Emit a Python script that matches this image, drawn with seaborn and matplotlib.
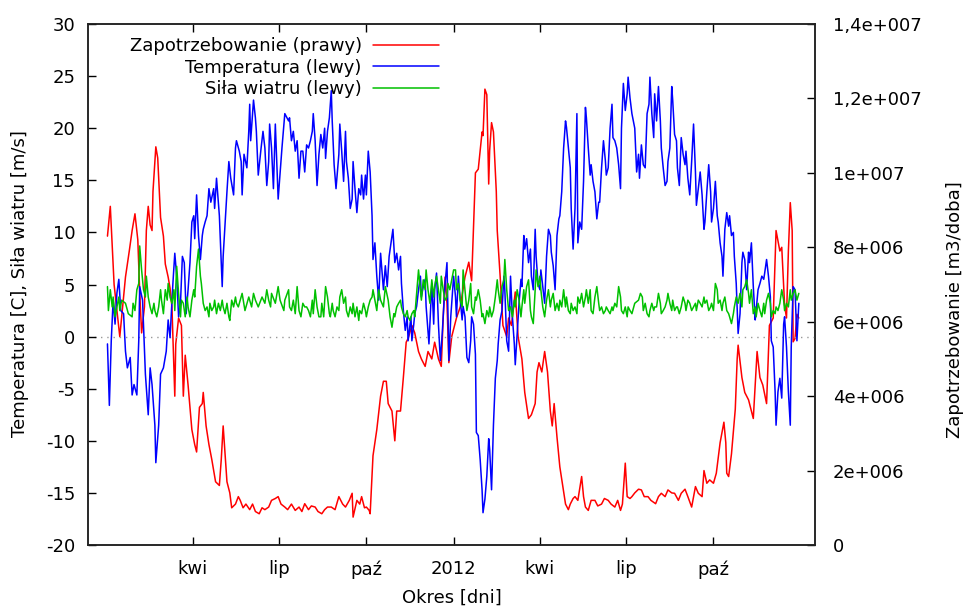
import pandas as pd
import numpy as np
import matplotlib
matplotlib.use("Agg")
import matplotlib.pyplot as plt
import seaborn as sns

# dni liczone od 2011-01-01
start = pd.Timestamp("2011-01-01")

zap_dni = [0, 3, 7, 13, 19, 23, 26, 29, 32, 34, 36, 39, 41, 43, 45, 47, 48, 51, 53, 56,
           59, 61, 64, 66, 68, 71, 72, 75, 78, 80, 82, 85, 89, 92, 94, 97, 100, 101, 104, 107,
           110, 114, 118, 120, 122, 126, 129, 131, 135, 138, 140, 143, 146, 150, 153, 156, 160, 163, 166, 170,
           173, 177, 180, 183, 187, 190, 194, 198, 202, 205, 208, 212, 215, 219, 222, 226, 229, 232, 236, 240,
           244, 248, 251, 255, 258, 259, 263, 266, 268, 271, 273, 276, 277, 280, 284, 288, 291, 294, 296, 300,
           303, 305, 309, 312, 315, 317, 321, 324, 328, 331, 335, 338, 342, 345, 349, 352, 354, 356, 358, 360,
           363, 368, 372, 377, 381, 384, 388, 391, 395, 396, 398, 400, 402, 403, 405, 407, 410, 411, 414, 417,
           421, 423, 426, 430, 433, 437, 440, 444, 447, 451, 453, 455, 458, 461, 464, 467, 469, 471, 474, 477,
           483, 486, 488, 491, 493, 496, 500, 502, 504, 507, 510, 514, 517, 521, 524, 528, 531, 535, 538, 541,
           543, 546, 548, 551, 553, 556, 560, 563, 566, 570, 573, 578, 581, 584, 588, 591, 595, 598, 602, 605,
           609, 612, 616, 620, 623, 627, 629, 632, 635, 639, 642, 646, 650, 652, 653, 655, 658, 662, 664, 665,
           669, 672, 676, 679, 681, 685, 688, 691, 695, 698, 702, 705, 709, 711, 713, 714, 716, 718, 720, 722,
           723, 725, 727, 729]
zap_mln = [8.3, 9.1, 7.0, 5.6, 7.2, 7.9, 8.45, 8.9, 8.2, 6.8, 5.7, 6.4, 8.45, 9.1, 8.6, 8.45, 9.5, 10.7, 10.4, 8.8,
           8.3, 7.55, 7.2, 6.9, 6.4, 4.0, 5.4, 6.1, 5.9, 4.0, 5.1, 4.3, 3.1, 2.7, 2.5, 3.7, 3.8, 4.1, 3.2, 2.7,
           2.3, 1.7, 1.6, 2.3, 3.2, 1.7, 1.4, 1.0, 1.1, 1.3, 1.2, 1.0, 1.1, 0.95, 1.1, 0.9, 0.84, 1.0, 0.95, 1.02,
           1.2, 1.25, 1.3, 1.1, 1.02, 0.95, 1.1, 0.93, 1.02, 0.9, 1.11, 0.95, 1.05, 1.02, 0.9, 0.84, 0.95, 1.02, 1.02, 0.95,
           1.3, 1.1, 1.02, 1.2, 1.39, 0.75, 1.2, 1.1, 1.3, 1.0, 1.02, 0.93, 0.84, 2.4, 3.1, 4.0, 4.4, 4.4, 3.8, 3.6,
           2.8, 3.6, 3.6, 4.5, 5.45, 5.55, 5.9, 5.7, 5.2, 5.0, 4.8, 5.2, 5.0, 5.45, 5.0, 4.8, 6.1, 7.2, 6.5, 4.9,
           5.6, 6.1, 6.4, 7.2, 7.6, 7.1, 10.0, 10.1, 11.1, 11.0, 12.25, 12.1, 9.7, 10.6, 11.35, 11.1, 9.5, 8.45, 7.25, 5.9,
           5.6, 6.1, 5.9, 6.8, 5.6, 5.0, 4.1, 3.4, 3.5, 3.8, 4.65, 4.9, 4.65, 5.2, 4.65, 3.6, 3.2, 3.8, 2.9, 2.1,
           1.1, 0.95, 1.1, 1.25, 1.3, 1.2, 1.84, 1.3, 1.02, 0.93, 1.2, 1.2, 1.05, 1.1, 1.25, 1.2, 1.1, 1.02, 1.2, 0.93,
           1.1, 2.2, 1.3, 1.25, 1.3, 1.4, 1.5, 1.48, 1.3, 1.3, 1.2, 1.11, 1.3, 1.39, 1.3, 1.48, 1.4, 1.39, 1.2, 1.39,
           1.5, 1.3, 1.02, 1.57, 1.39, 1.3, 2.0, 1.66, 1.75, 1.66, 1.93, 2.75, 3.3, 2.75, 1.93, 1.84, 2.45, 3.65, 5.0, 5.37,
           4.5, 4.1, 3.9, 3.6, 3.4, 5.2, 4.5, 4.3, 3.8, 5.9, 6.1, 8.45, 7.9, 8.0, 7.0, 6.45, 6.1, 7.9, 9.2, 8.45,
           5.46, 5.55, 6.2, 6.1]

temp_dni = [0, 2, 4, 6, 8, 10, 12, 14, 17, 19, 21, 24, 26, 28, 31, 33, 34, 37, 40, 43,
            45, 47, 50, 51, 54, 56, 59, 62, 64, 66, 69, 71, 73, 75, 77, 79, 81, 83, 85, 87,
            89, 91, 92, 94, 96, 98, 100, 101, 103, 105, 107, 109, 112, 113, 115, 118, 121, 122, 126, 128,
            130, 133, 135, 136, 139, 141, 142, 144, 147, 149, 150, 151, 154, 156, 157, 159, 162, 164, 166, 168,
            170, 171, 173, 175, 177, 180, 184, 187, 191, 192, 194, 196, 198, 200, 202, 204, 206, 208, 210, 212,
            214, 216, 217, 219, 221, 223, 225, 227, 229, 230, 232, 234, 236, 237, 239, 241, 244, 245, 247, 249,
            251, 252, 254, 256, 258, 259, 261, 263, 265, 267, 268, 270, 272, 273, 275, 277, 279, 280, 282, 284,
            286, 288, 291, 293, 295, 297, 299, 301, 303, 305, 307, 309, 310, 312, 314, 316, 317, 320, 321, 323,
            324, 326, 328, 330, 331, 333, 335, 336, 339, 342, 344, 345, 347, 349, 351, 353, 356, 358, 360, 362,
            365, 367, 368, 370, 372, 374, 375, 377, 379, 381, 383, 384, 386, 388, 389, 391, 393, 395, 396, 398,
            400, 402, 403, 405, 407, 409, 411, 412, 414, 416, 418, 419, 421, 423, 425, 427, 429, 430, 432, 434,
            436, 437, 439, 440, 442, 444, 446, 447, 449, 451, 452, 454, 456, 457, 459, 461, 463, 465, 467, 468,
            470, 472, 474, 476, 477, 479, 481, 483, 484, 486, 488, 489, 491, 493, 495, 496, 498, 500, 502, 504,
            505, 507, 509, 510, 512, 514, 516, 518, 519, 521, 523, 525, 526, 528, 530, 532, 533, 535, 537, 539,
            541, 542, 544, 546, 548, 549, 551, 553, 556, 558, 560, 561, 563, 565, 567, 569, 571, 572, 574, 576,
            577, 579, 581, 583, 584, 586, 588, 590, 591, 593, 595, 596, 598, 600, 601, 603, 605, 607, 609, 610,
            612, 614, 616, 618, 620, 621, 623, 625, 627, 629, 630, 632, 634, 636, 637, 639, 641, 643, 644, 646,
            648, 649, 651, 653, 655, 656, 658, 660, 661, 663, 665, 667, 669, 670, 672, 674, 676, 677, 679, 681,
            683, 684, 686, 688, 690, 692, 693, 695, 697, 699, 700, 702, 704, 705, 707, 709, 711, 713, 714, 716,
            718, 720, 721, 723, 725, 727, 729]
temp_c = [-0.7, -6.6, -0.4, 3.5, 1.2, 4.2, 5.5, 2.5, 2.2, -1.4, -3.0, -2.0, -5.6, -4.6, -5.6, -0.4, 4.8, 3.5, -3.6, -7.5,
          -3.0, -4.6, -8.5, -12.1, -8.5, -3.6, -3.0, -1.4, 1.6, -0.1, 5.1, 8.0, 5.8, 1.9, 3.2, 7.7, 7.1, 2.2, 4.5, 7.1,
          11.0, 11.6, 9.4, 13.6, 9.7, 7.4, 9.7, 10.3, 11.0, 11.6, 14.2, 12.9, 14.2, 12.3, 15.2, 11.6, 4.8, 7.7, 13.9, 16.8,
          15.2, 13.6, 18.1, 18.8, 17.8, 16.8, 13.6, 17.5, 16.2, 19.7, 22.3, 18.8, 22.7, 21.0, 19.7, 15.5, 18.1, 19.7, 18.1, 14.5,
          16.8, 20.4, 18.1, 14.2, 20.4, 13.2, 18.1, 21.4, 20.7, 21.0, 18.8, 19.7, 17.8, 18.8, 15.2, 17.8, 17.8, 15.8, 18.4, 18.1,
          18.8, 19.7, 21.4, 18.8, 14.5, 17.5, 19.4, 18.1, 20.0, 17.1, 19.7, 21.0, 23.6, 20.7, 16.5, 14.2, 17.5, 20.4, 17.8, 14.9,
          19.7, 16.8, 15.2, 12.3, 13.2, 16.8, 14.2, 11.9, 14.2, 13.6, 15.5, 13.2, 15.5, 13.6, 17.8, 15.8, 11.6, 7.4, 9.0, 5.8,
          3.5, 8.0, 4.5, 6.8, 4.8, 7.7, 9.0, 10.3, 7.1, 8.0, 6.4, 7.7, 5.1, 2.5, 0.6, 1.9, -0.4, 1.9, -0.4, 1.2,
          2.2, 2.9, 4.5, 5.8, 3.8, 4.8, 5.5, 2.9, -0.7, 5.1, 1.2, 4.5, 6.1, 1.2, -2.3, 0.3, 5.1, 7.1, -2.3, 1.9,
          5.8, 3.8, 1.9, 5.8, 3.5, 1.6, 2.9, 1.9, -2.0, -2.5, -0.4, 1.9, 1.2, -1.7, -9.2, -9.5, -11.8, -14.7, -16.9, -15.6,
          -13.4, -9.8, -10.8, -14.7, -8.5, -4.0, -2.3, -0.7, 1.6, 2.5, 5.8, 4.5, -0.4, -1.4, 5.8, 1.9, -0.7, -2.7, 0.3, 3.2,
          5.5, 4.8, 9.7, 8.4, 9.4, 7.1, 8.4, 5.8, 4.5, 10.3, 7.7, 5.1, 4.5, 6.4, 4.8, 3.2, 7.7, 10.3, 9.7, 8.1,
          6.8, 4.5, 9.7, 11.3, 11.6, 13.9, 18.1, 20.7, 20.1, 18.1, 16.2, 12.3, 8.4, 12.3, 21.4, 9.0, 11.0, 10.3, 14.9, 22.0,
          21.0, 18.1, 15.5, 16.5, 14.9, 13.9, 11.3, 12.9, 12.9, 16.2, 18.8, 16.9, 15.5, 16.2, 20.0, 22.3, 19.1, 18.8, 18.1, 16.5,
          14.2, 20.0, 24.3, 21.7, 23.3, 24.9, 22.9, 21.4, 20.0, 15.8, 17.5, 15.2, 18.4, 16.5, 16.2, 21.4, 22.3, 24.9, 21.4, 19.1,
          23.3, 20.7, 24.0, 20.7, 18.1, 16.2, 14.5, 14.9, 16.8, 18.1, 24.0, 22.7, 19.4, 18.8, 16.2, 14.5, 19.1, 17.5, 16.5, 17.8,
          15.2, 13.6, 16.8, 20.4, 15.8, 12.6, 14.2, 15.8, 13.6, 10.3, 11.0, 13.9, 16.5, 13.9, 11.0, 12.3, 14.9, 11.6, 11.0, 9.0,
          7.7, 5.8, 10.3, 11.9, 10.6, 11.6, 9.7, 10.0, 7.7, 5.1, 0.3, 2.2, 7.1, 8.1, 7.4, 4.5, 8.1, 7.1, 9.0, 4.8,
          1.6, 2.5, 4.5, 5.1, 5.8, 5.5, 6.1, 7.4, 5.8, 3.8, -0.4, -1.0, -5.3, -8.5, -5.3, -4.0, -5.9, 1.2, 1.9, -1.0,
          -5.3, -8.5, -1.0, 4.8, 4.5, -0.4, 3.2]

wiatr_dni = [0, 1, 3, 5, 6, 8, 10, 12, 13, 15, 19, 22, 26, 27, 29, 31, 33, 34, 36, 38,
             40, 41, 43, 45, 47, 49, 50, 52, 54, 56, 57, 59, 61, 63, 64, 66, 68, 70, 71, 73,
             75, 77, 78, 80, 82, 84, 85, 87, 89, 91, 92, 94, 96, 98, 99, 101, 103, 105, 107, 108,
             110, 112, 113, 115, 117, 119, 121, 122, 124, 126, 128, 129, 131, 133, 135, 136, 138, 142, 145, 149,
             152, 154, 156, 159, 163, 166, 168, 170, 172, 173, 177, 180, 182, 186, 187, 191, 192, 194, 196, 198,
             200, 202, 204, 206, 208, 210, 212, 214, 216, 217, 219, 221, 223, 225, 226, 228, 230, 232, 234, 235,
             237, 238, 240, 242, 244, 245, 247, 249, 251, 252, 254, 256, 258, 259, 261, 263, 265, 266, 268, 270,
             272, 273, 275, 277, 279, 280, 282, 284, 286, 288, 291, 293, 296, 298, 300, 302, 303, 305, 307, 309,
             310, 312, 314, 316, 317, 319, 321, 323, 324, 328, 330, 331, 333, 335, 336, 338, 340, 342, 344, 345,
             347, 349, 351, 352, 354, 356, 358, 359, 361, 363, 365, 367, 368, 370, 372, 374, 375, 377, 379, 381,
             383, 384, 386, 388, 389, 391, 393, 395, 396, 398, 400, 402, 403, 405, 407, 409, 411, 412, 414, 416,
             418, 419, 421, 423, 425, 427, 429, 430, 432, 434, 436, 437, 439, 440, 442, 444, 446, 447, 449, 451,
             452, 454, 456, 457, 459, 461, 463, 465, 467, 468, 470, 472, 474, 476, 477, 479, 481, 483, 484, 486,
             488, 489, 491, 493, 495, 496, 498, 500, 502, 504, 505, 507, 509, 510, 512, 514, 516, 518, 519, 521,
             523, 525, 526, 528, 530, 532, 533, 535, 537, 539, 541, 542, 544, 546, 548, 549, 551, 553, 556, 560,
             562, 564, 565, 567, 569, 571, 572, 574, 576, 577, 579, 581, 583, 584, 586, 588, 590, 591, 593, 595,
             596, 598, 600, 601, 603, 605, 607, 609, 610, 612, 614, 616, 618, 620, 621, 623, 625, 627, 629, 630,
             632, 634, 636, 637, 639, 641, 643, 644, 646, 648, 649, 651, 653, 655, 656, 658, 660, 661, 663, 665,
             667, 669, 670, 672, 674, 676, 677, 679, 681, 683, 684, 686, 688, 690, 692, 693, 695, 697, 699, 700,
             702, 704, 705, 707, 709, 711, 713, 714, 716, 718, 720, 721, 723, 725, 727, 729]
wiatr_ms = [4.8, 2.5, 4.5, 2.85, 3.8, 1.9, 2.85, 3.8, 2.5, 3.5, 3.2, 2.2, 1.9, 3.2, 2.5, 4.5, 5.1, 8.7, 6.4, 4.5,
            3.8, 5.8, 3.8, 2.85, 2.2, 3.2, 2.5, 1.9, 2.85, 4.5, 3.5, 2.2, 4.5, 3.5, 5.1, 3.8, 3.2, 4.5, 2.5, 6.75,
            4.15, 1.9, 3.5, 3.2, 1.9, 3.8, 2.85, 1.9, 3.5, 4.5, 3.8, 6.75, 8.4, 5.8, 5.1, 3.2, 2.5, 2.85, 1.9, 3.2,
            2.5, 2.85, 3.5, 2.2, 3.2, 2.5, 3.5, 2.85, 2.2, 3.2, 1.9, 1.55, 3.5, 2.85, 3.8, 3.2, 2.85, 4.15, 2.5, 3.8,
            2.85, 4.15, 3.5, 2.85, 3.8, 3.2, 4.5, 3.5, 2.85, 4.15, 3.2, 4.8, 3.5, 2.5, 3.5, 4.5, 2.85, 2.5, 3.5, 2.2,
            4.8, 2.5, 1.9, 3.2, 2.85, 2.85, 2.5, 1.9, 3.5, 2.2, 4.5, 2.85, 1.9, 1.9, 3.2, 1.9, 4.8, 3.8, 2.2, 1.9,
            3.2, 2.5, 1.9, 2.85, 2.5, 3.8, 4.5, 3.2, 3.8, 2.5, 1.9, 2.85, 2.2, 3.2, 1.9, 2.85, 1.55, 2.5, 2.2, 3.2,
            2.5, 1.9, 2.85, 3.5, 3.8, 4.5, 3.5, 2.5, 4.5, 3.5, 2.85, 4.8, 3.5, 1.9, 0.9, 2.2, 1.9, 2.85, 3.2, 3.5,
            2.85, 2.2, 1.9, 2.5, 1.9, 1.55, 2.2, 2.5, 1.9, 6.4, 4.5, 3.5, 5.45, 4.5, 6.4, 4.5, 3.2, 5.45, 3.8, 4.8,
            5.8, 4.5, 3.2, 5.8, 4.5, 3.5, 3.8, 5.1, 4.5, 5.45, 6.4, 6.4, 4.5, 5.1, 3.5, 2.85, 6.4, 4.5, 2.5, 3.5,
            5.1, 2.85, 2.2, 3.8, 3.5, 4.5, 3.5, 1.9, 2.2, 1.25, 2.5, 1.9, 2.85, 1.9, 2.5, 3.8, 5.45, 4.5, 3.2, 4.8,
            5.45, 7.4, 4.5, 2.5, 2.85, 1.9, 3.5, 2.85, 4.5, 3.5, 1.9, 2.85, 4.5, 3.2, 4.8, 5.45, 2.5, 1.9, 1.25, 4.5,
            6.4, 4.8, 5.8, 4.5, 2.85, 1.9, 3.5, 4.5, 2.85, 3.5, 4.15, 2.5, 3.2, 2.5, 3.5, 2.85, 4.5, 2.85, 3.8, 2.5,
            2.2, 3.2, 2.5, 2.85, 2.2, 3.8, 3.2, 4.15, 2.85, 3.8, 4.5, 3.2, 4.5, 2.5, 2.2, 3.8, 4.8, 3.2, 2.5, 2.85,
            2.2, 2.5, 2.85, 2.5, 2.2, 2.85, 2.5, 3.2, 2.85, 4.8, 3.8, 2.5, 2.2, 2.85, 1.9, 2.85, 2.5, 2.2, 3.2, 3.5,
            4.15, 3.8, 2.5, 3.2, 2.2, 1.9, 2.5, 3.2, 2.5, 2.85, 2.85, 4.15, 3.2, 2.2, 2.5, 2.85, 3.5, 4.15, 3.2, 2.5,
            3.5, 2.5, 2.85, 2.85, 2.2, 2.85, 3.8, 3.2, 2.5, 3.5, 3.2, 2.5, 2.85, 3.2, 2.5, 3.5, 3.2, 2.85, 3.8, 3.2,
            3.5, 2.5, 2.85, 3.2, 2.5, 5.1, 4.5, 3.2, 3.5, 2.5, 3.2, 3.8, 2.5, 2.2, 1.9, 1.25, 2.2, 2.85, 3.8, 3.2,
            4.15, 2.85, 4.5, 4.8, 5.45, 4.15, 3.2, 4.5, 2.2, 2.85, 1.9, 3.2, 2.5, 1.9, 3.2, 2.2, 3.5, 4.15, 3.2, 1.9,
            2.5, 2.2, 2.85, 2.5, 3.2, 4.5, 3.5, 2.5, 3.2, 2.85, 4.5, 3.5, 4.15, 4.5, 3.5, 4.15]

x_tick_daty = ["2011-04-01", "2011-07-01", "2011-10-01", "2012-01-01", "2012-04-01", "2012-07-01", "2012-10-01"]
x_tick_etykiety = ["kwi", "lip", "paź", "2012", "kwi", "lip", "paź"]
lewe_ticki = [-20, -15, -10, -5, 0, 5, 10, 15, 20, 25, 30]
prawe_ticki = [0, 2e6, 4e6, 6e6, 8e6, 1e7, 1.2e7, 1.4e7]
prawe_etykiety = ["0", "2e+006", "4e+006", "6e+006", "8e+006", "1e+007", "1,2e+007", "1,4e+007"]


def daty(dni):
    return start + pd.to_timedelta(dni, unit="D")


zap = pd.DataFrame({"data": daty(zap_dni), "wartosc": np.array(zap_mln) * 1e6})
temp = pd.DataFrame({"data": daty(temp_dni), "wartosc": temp_c})
wiatr = pd.DataFrame({"data": daty(wiatr_dni), "wartosc": wiatr_ms})

sns.set_style("white")
plt.rcParams["font.family"] = ["DejaVu Sans"]
plt.rcParams["font.size"] = 13
plt.rcParams["text.color"] = "black"
plt.rcParams["axes.labelcolor"] = "black"
plt.rcParams["xtick.color"] = "black"
plt.rcParams["ytick.color"] = "black"

fig = plt.figure(figsize=(9.65, 6.08), dpi=100)
ax_r = fig.add_axes([0.0917, 0.1036, 0.7528, 0.8569])
ax_l = ax_r.twinx()

# prawa os (zapotrzebowanie) pod spodem, lewa os na wierzchu
sns.lineplot(data=zap, x="data", y="wartosc", ax=ax_r, color="#ff0000", lw=1.1)
sns.lineplot(data=temp, x="data", y="wartosc", ax=ax_l, color="#0000ff", lw=1.1)
sns.lineplot(data=wiatr, x="data", y="wartosc", ax=ax_l, color="#00c000", lw=1.1)
l_zap = ax_r.lines[0]
l_temp, l_wiatr = ax_l.lines[0], ax_l.lines[1]
ax_l.axhline(0, color="#999999", lw=1, ls=(0, (1, 3.5)), zorder=0)

ax_r.set_xlim(start - pd.Timedelta(days=20), start + pd.Timedelta(days=746))
ax_r.set_ylim(0, 1.4e7)
ax_l.set_ylim(-20, 30)

ax_r.yaxis.tick_right()
ax_r.yaxis.set_label_position("right")
ax_l.yaxis.tick_left()
ax_l.yaxis.set_label_position("left")

ax_r.set_xticks(pd.to_datetime(x_tick_daty))
ax_r.set_xticklabels(x_tick_etykiety)
ax_r.set_yticks(prawe_ticki)
ax_r.set_yticklabels(prawe_etykiety)
ax_l.set_yticks(lewe_ticki)
ax_l.set_yticklabels([str(v) for v in lewe_ticki])

ax_r.tick_params(axis="x", direction="in", length=6, width=1, top=True, bottom=True, pad=11, labelsize=13)
ax_r.tick_params(axis="y", direction="in", length=6, width=1, right=True, left=False, pad=13, labelsize=13)
ax_l.tick_params(axis="y", direction="in", length=6, width=1, left=True, right=False, pad=9.5, labelsize=13)

for a in (ax_r, ax_l):
    for s in a.spines.values():
        s.set_color("#222222")
        s.set_linewidth(1.1)

ax_r.set_xlabel("Okres [dni]", fontsize=13)
ax_r.xaxis.set_label_coords(0.5003, -0.1017)
ax_r.xaxis.label.set_va("center")
ax_r.set_ylabel("Zapotrzebowanie [m3/doba]", fontsize=13)
ax_r.yaxis.set_label_coords(1.1927, 0.451)
ax_r.yaxis.label.set_va("center")
ax_l.set_ylabel("Temperatura [C], Siła wiatru [m/s]", fontsize=13)
ax_l.yaxis.set_label_coords(-0.0943, 0.501)
ax_l.yaxis.label.set_va("center")

for a in (ax_r, ax_l):
    if a.get_legend() is not None:
        a.get_legend().remove()

ax_l.legend([l_zap, l_temp, l_wiatr],
            ["Zapotrzebowanie (prawy)", "Temperatura (lewy)", "Siła wiatru (lewy)"],
            loc="upper right", bbox_to_anchor=(0.483, 0.975), frameon=False,
            markerfirst=False, handlelength=3.7, handletextpad=0.6,
            labelspacing=0.2, borderpad=0, borderaxespad=0, fontsize=13)

fig.savefig("out.png", dpi=100)
plt.close(fig)
